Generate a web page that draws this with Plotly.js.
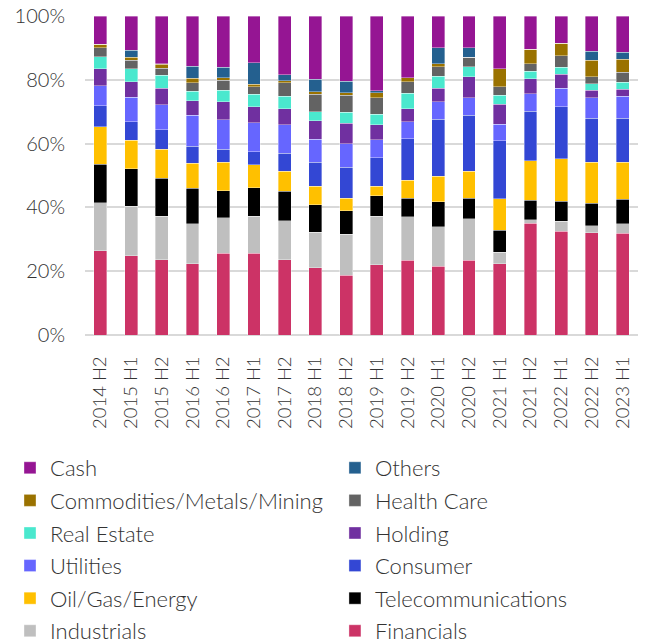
<!DOCTYPE html>
<html>
<head>
<meta charset="utf-8">
<script src="https://cdn.plot.ly/plotly-3.0.1.min.js"></script>
<style>html,body{margin:0;padding:0;background:#fff;}#chart{width:645px;height:641px;}</style>
</head>
<body>
<div id="chart"></div>
<script>
const periods = ["2014 H2","2015 H1","2015 H2","2016 H1","2016 H2","2017 H1","2017 H2","2018 H1","2018 H2","2019 H1","2019 H2","2020 H1","2020 H2","2021 H1","2021 H2","2022 H1","2022 H2","2023 H1"];

const financials   = [26.4,24.9,23.6,22.4,25.6,25.6,23.6,21.1,18.7,22.1,23.4,21.5,23.4,22.4,35.0,32.6,32.1,31.9];
const industrials  = [15.1,15.4,13.7,12.5,11.1,11.7,12.2,11.1,12.9,15.2,13.6,12.4,13.0,3.5,1.1,3.0,2.2,3.0];
const telecom      = [12.1,11.8,11.9,11.1,8.5,8.9,9.2,8.7,7.4,6.4,5.9,7.8,6.5,6.9,6.2,6.3,7.0,7.7];
const oilGas       = [11.7,9.0,9.0,7.8,8.9,7.2,6.3,5.7,3.9,2.9,5.6,8.0,8.4,9.9,12.3,13.4,12.9,11.6];
const consumer     = [6.5,5.7,6.1,5.4,4.2,4.0,5.7,7.6,9.7,8.9,13.0,18.0,17.6,18.2,15.6,16.2,13.8,13.8];
const utilities    = [6.3,7.8,7.9,9.7,9.2,9.2,8.9,7.1,7.4,5.7,5.4,5.4,5.4,5.1,5.5,5.8,6.4,6.8];
const holding      = [5.3,4.8,5.2,4.5,5.6,4.9,5.0,5.8,6.4,4.7,4.1,4.3,6.6,6.3,4.7,4.4,2.4,2.3];
const realEstate   = [3.9,4.0,4.0,3.0,3.7,4.0,3.9,2.9,3.5,3.3,4.8,3.7,3.2,2.9,2.3,2.3,1.9,2.1];
const healthCare   = [2.8,2.8,2.2,2.7,3.0,2.4,4.2,5.4,5.3,5.2,3.6,3.0,2.9,2.6,2.3,3.5,2.2,3.1];
const commodities  = [1.0,0.8,1.3,1.4,0.9,0.7,0.7,0.8,0.8,1.5,1.2,1.0,0.0,5.7,4.6,3.9,5.2,4.1];
const others       = [0.0,2.2,0.2,3.7,3.2,6.8,1.9,3.9,3.5,0.7,0.0,5.0,3.1,0.0,0.0,0.0,2.9,2.3];
const cash         = [8.9,10.8,14.9,15.8,16.1,14.6,18.4,19.9,20.5,23.4,19.4,9.9,9.9,16.5,10.4,8.6,11.0,11.3];

const seriesNames = ["Financials","Industrials","Telecommunications","Oil/Gas/Energy","Consumer","Utilities","Holding","Real Estate","Health Care","Commodities/Metals/Mining","Others","Cash"];
const seriesValues = [financials,industrials,telecom,oilGas,consumer,utilities,holding,realEstate,healthCare,commodities,others,cash];
const seriesColors = ["#CC3366","#BFBFBF","#000000","#FFC000","#3347D4","#6666FF","#7030A0","#4AE8CE","#636363","#9A7200","#24608F","#951593"];
const seriesLegend = ["legend2","legend","legend2","legend","legend2","legend","legend2","legend","legend2","legend","legend2","legend"];

const traces = seriesNames.map((name,i)=>({
  type:"bar",
  name:name,
  x:periods,
  y:seriesValues[i],
  marker:{color:seriesColors[i], line:{color:"rgba(255,255,255,0.6)", width:0.6}},
  legend:seriesLegend[i],
  legendgroup:"g"+i,
  legendrank:100 - i,
  hoverinfo:"name+y"
}));

const fontFam = "Lato, 'Open Sans', sans-serif";
const legendCommon = {
  orientation:"v",
  traceorder:"grouped",
  tracegroupgap:1,
  font:{family:fontFam, size:22, color:"#333333", weight:300},
  bgcolor:"rgba(0,0,0,0)",
  yanchor:"top",
  xanchor:"left",
  itemwidth:30
};

const layout = {
  width:645, height:641,
  margin:{l:85, r:7, t:16, b:306, autoexpand:false},
  barmode:"stack",
  barnorm:"percent",
  bargap:0.58,
  paper_bgcolor:"#ffffff",
  plot_bgcolor:"#ffffff",
  font:{family:fontFam, size:19, color:"#333333", weight:300},
  showlegend:true,
  xaxis:{
    type:"category",
    tickangle:-90,
    tickfont:{family:fontFam, size:18.5, color:"#333333", weight:300},
    showgrid:false,
    showline:false,
    ticks:"outside", ticklen:13, tickcolor:"rgba(0,0,0,0)",
    automargin:false,
    fixedrange:true
  },
  yaxis:{
    range:[0,100],
    tickvals:[0,20,40,60,80,100],
    ticktext:["0%","20%","40%","60%","80%","100%"],
    tickfont:{family:fontFam, size:20, color:"#333333", weight:300},
    showgrid:true, gridcolor:"#D9D9D9", gridwidth:2,
    zeroline:true, zerolinecolor:"#D9D9D9", zerolinewidth:2,
    ticks:"outside", ticklen:15, tickcolor:"rgba(0,0,0,0)",
    showline:false,
    automargin:false,
    fixedrange:true
  },
  legend:Object.assign({}, legendCommon, {x:-0.1356, y:-0.351}),
  legend2:Object.assign({}, legendCommon, {x:0.452, y:-0.351})
};

Plotly.newPlot("chart", traces, layout, {displayModeBar:false, staticPlot:true});
</script>
</body>
</html>
